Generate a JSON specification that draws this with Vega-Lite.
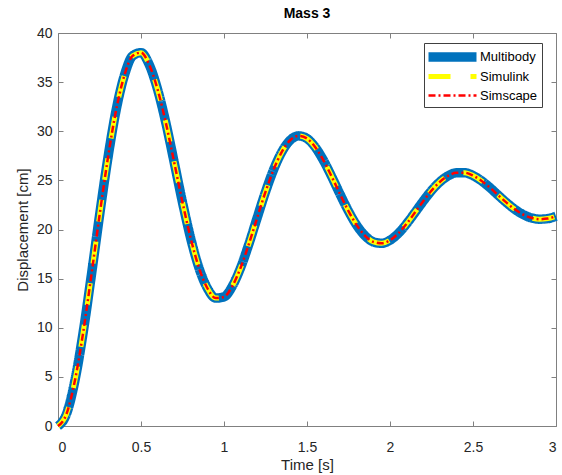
{
  "$schema": "https://vega.github.io/schema/vega-lite/v6.json",
  "width": 498,
  "height": 393,
  "autosize": {"type": "none"},
  "padding": {"left": 58, "top": 33, "right": 6, "bottom": 49},
  "background": "white",
  "title": {"text": "Mass 3", "fontSize": 14, "fontWeight": "bold", "color": "#000000", "offset": 5, "anchor": "middle", "font": "Liberation Sans"},
  "data": {"values": [
    {"t":0,"Multibody":0,"Simulink":0,"Simscape":0},
    {"t":0.05,"Multibody":1.18,"Simulink":1.18,"Simscape":1.18},
    {"t":0.1,"Multibody":4.47,"Simulink":4.47,"Simscape":4.47},
    {"t":0.15,"Multibody":9.35,"Simulink":9.35,"Simscape":9.35},
    {"t":0.2,"Multibody":15.23,"Simulink":15.23,"Simscape":15.23},
    {"t":0.25,"Multibody":21.4,"Simulink":21.4,"Simscape":21.4},
    {"t":0.3,"Multibody":27.21,"Simulink":27.21,"Simscape":27.21},
    {"t":0.35,"Multibody":32.14,"Simulink":32.14,"Simscape":32.14},
    {"t":0.4,"Multibody":35.69,"Simulink":35.69,"Simscape":35.69},
    {"t":0.45,"Multibody":37.68,"Simulink":37.68,"Simscape":37.68},
    {"t":0.5,"Multibody":38.0,"Simulink":38.0,"Simscape":38.0},
    {"t":0.55,"Multibody":36.76,"Simulink":36.76,"Simscape":36.76},
    {"t":0.6,"Multibody":34.25,"Simulink":34.25,"Simscape":34.25},
    {"t":0.65,"Multibody":30.83,"Simulink":30.83,"Simscape":30.83},
    {"t":0.7,"Multibody":26.83,"Simulink":26.83,"Simscape":26.83},
    {"t":0.75,"Multibody":22.76,"Simulink":22.76,"Simscape":22.76},
    {"t":0.8,"Multibody":19.06,"Simulink":19.06,"Simscape":19.06},
    {"t":0.85,"Multibody":16.06,"Simulink":16.06,"Simscape":16.06},
    {"t":0.9,"Multibody":14.02,"Simulink":14.02,"Simscape":14.02},
    {"t":0.95,"Multibody":13.02,"Simulink":13.02,"Simscape":13.02},
    {"t":1.0,"Multibody":13.14,"Simulink":13.14,"Simscape":13.14},
    {"t":1.05,"Multibody":14.23,"Simulink":14.23,"Simscape":14.23},
    {"t":1.1,"Multibody":16.11,"Simulink":16.11,"Simscape":16.11},
    {"t":1.15,"Multibody":18.53,"Simulink":18.53,"Simscape":18.53},
    {"t":1.2,"Multibody":21.2,"Simulink":21.2,"Simscape":21.2},
    {"t":1.25,"Multibody":23.83,"Simulink":23.83,"Simscape":23.83},
    {"t":1.3,"Multibody":26.14,"Simulink":26.14,"Simscape":26.14},
    {"t":1.35,"Multibody":27.95,"Simulink":27.95,"Simscape":27.95},
    {"t":1.4,"Multibody":29.11,"Simulink":29.11,"Simscape":29.11},
    {"t":1.45,"Multibody":29.53,"Simulink":29.53,"Simscape":29.53},
    {"t":1.5,"Multibody":29.26,"Simulink":29.26,"Simscape":29.26},
    {"t":1.55,"Multibody":28.37,"Simulink":28.37,"Simscape":28.37},
    {"t":1.6,"Multibody":27.01,"Simulink":27.01,"Simscape":27.01},
    {"t":1.65,"Multibody":25.34,"Simulink":25.34,"Simscape":25.34},
    {"t":1.7,"Multibody":23.56,"Simulink":23.56,"Simscape":23.56},
    {"t":1.75,"Multibody":21.87,"Simulink":21.87,"Simscape":21.87},
    {"t":1.8,"Multibody":20.42,"Simulink":20.42,"Simscape":20.42},
    {"t":1.85,"Multibody":19.36,"Simulink":19.36,"Simscape":19.36},
    {"t":1.9,"Multibody":18.74,"Simulink":18.74,"Simscape":18.74},
    {"t":1.95,"Multibody":18.6,"Simulink":18.6,"Simscape":18.6},
    {"t":2.0,"Multibody":18.91,"Simulink":18.91,"Simscape":18.91},
    {"t":2.05,"Multibody":19.6,"Simulink":19.6,"Simscape":19.6},
    {"t":2.1,"Multibody":20.58,"Simulink":20.58,"Simscape":20.58},
    {"t":2.15,"Multibody":21.72,"Simulink":21.72,"Simscape":21.72},
    {"t":2.2,"Multibody":22.88,"Simulink":22.88,"Simscape":22.88},
    {"t":2.25,"Multibody":23.96,"Simulink":23.96,"Simscape":23.96},
    {"t":2.3,"Multibody":24.84,"Simulink":24.84,"Simscape":24.84},
    {"t":2.35,"Multibody":25.46,"Simulink":25.46,"Simscape":25.46},
    {"t":2.4,"Multibody":25.77,"Simulink":25.77,"Simscape":25.77},
    {"t":2.45,"Multibody":25.78,"Simulink":25.78,"Simscape":25.78},
    {"t":2.5,"Multibody":25.49,"Simulink":25.49,"Simscape":25.49},
    {"t":2.55,"Multibody":24.97,"Simulink":24.97,"Simscape":24.97},
    {"t":2.6,"Multibody":24.29,"Simulink":24.29,"Simscape":24.29},
    {"t":2.65,"Multibody":23.52,"Simulink":23.52,"Simscape":23.52},
    {"t":2.7,"Multibody":22.76,"Simulink":22.76,"Simscape":22.76},
    {"t":2.75,"Multibody":22.08,"Simulink":22.08,"Simscape":22.08},
    {"t":2.8,"Multibody":21.54,"Simulink":21.54,"Simscape":21.54},
    {"t":2.85,"Multibody":21.19,"Simulink":21.19,"Simscape":21.19},
    {"t":2.9,"Multibody":21.05,"Simulink":21.05,"Simscape":21.05},
    {"t":2.95,"Multibody":21.11,"Simulink":21.11,"Simscape":21.11},
    {"t":3.0,"Multibody":21.35,"Simulink":21.35,"Simscape":21.35}
  ]},
  "transform": [{"fold": ["Multibody", "Simulink", "Simscape"], "as": ["series", "disp"]}],
  "encoding": {
    "color": {"field": "series", "type": "nominal", "scale": {"domain": ["Multibody", "Simulink", "Simscape"], "range": ["#0072BD", "#FFFF00", "#FF0000"]}, "legend": {"title": null, "encode": {"symbols": {"update": {"strokeJoin": {"value": "round"}, "strokeCap": {"value": "butt"}}}}}},
    "strokeWidth": {"field": "series", "type": "nominal", "scale": {"type": "ordinal", "domain": ["Multibody", "Simulink", "Simscape"], "range": [9.5, 5, 2.5]}, "legend": {"title": null, "encode": {"symbols": {"update": {"strokeJoin": {"value": "round"}, "strokeCap": {"value": "butt"}}}}}},
    "strokeDash": {"field": "series", "type": "nominal", "scale": {"domain": ["Multibody", "Simulink", "Simscape"], "range": [[1, 0], [22, 20], [7, 3, 2, 3]]}, "legend": {"title": null, "encode": {"symbols": {"update": {"strokeJoin": {"value": "round"}, "strokeCap": {"value": "butt"}}}}}}
  },
  "layer": [
    {
      "transform": [{"filter": "datum.series === 'Multibody'"}],
      "mark": {"type": "line", "interpolate": "monotone"},
      "encoding": {
        "x": {"field": "t", "type": "quantitative", "scale": {"domain": [0, 3], "nice": false}, "axis": {"orient": "bottom", "values": [0, 0.5, 1, 1.5, 2, 2.5, 3], "format": "~g", "title": "Time [s]", "labelPadding": 19, "titlePadding": 3}},
        "y": {"field": "disp", "type": "quantitative", "scale": {"domain": [0, 40], "nice": false}, "axis": {"orient": "left", "values": [0, 5, 10, 15, 20, 25, 30, 35, 40], "title": "Displacement [cm]", "labelPadding": 11, "titlePadding": 6}}
      }
    },
    {
      "transform": [{"filter": "datum.series === 'Simulink'"}],
      "mark": {"type": "line", "interpolate": "monotone"},
      "encoding": {
        "x": {"field": "t", "type": "quantitative", "axis": null},
        "y": {"field": "disp", "type": "quantitative", "axis": null}
      }
    },
    {
      "transform": [{"filter": "datum.series === 'Simscape'"}],
      "mark": {"type": "line", "interpolate": "monotone"},
      "encoding": {
        "x": {"field": "t", "type": "quantitative", "axis": {"orient": "top", "values": [0, 0.5, 1, 1.5, 2, 2.5, 3], "labels": false, "title": null}},
        "y": {"field": "disp", "type": "quantitative", "axis": {"orient": "right", "values": [0, 5, 10, 15, 20, 25, 30, 35, 40], "labels": false, "title": null}}
      }
    }
  ],
  "resolve": {"axis": {"x": "independent", "y": "independent"}},
  "config": {
    "font": "Liberation Sans",
    "view": {"stroke": null},
    "axis": {"domainColor": "#808080", "tickColor": "#808080", "tickSize": -5, "labelColor": "#262626", "labelFontSize": 14, "titleFontSize": 15, "titleColor": "#262626", "titleFontWeight": "normal", "grid": false, "domainWidth": 1, "tickWidth": 1},
    "legend": {"orient": "none", "legendX": 366, "legendY": 10, "strokeColor": "#404040", "fillColor": "white", "padding": 4, "labelFontSize": 13, "labelColor": "#000000", "symbolType": "M-1.9,0H7.7", "symbolSize": 100, "rowPadding": 5, "labelOffset": 32, "cornerRadius": 0}
  }
}
